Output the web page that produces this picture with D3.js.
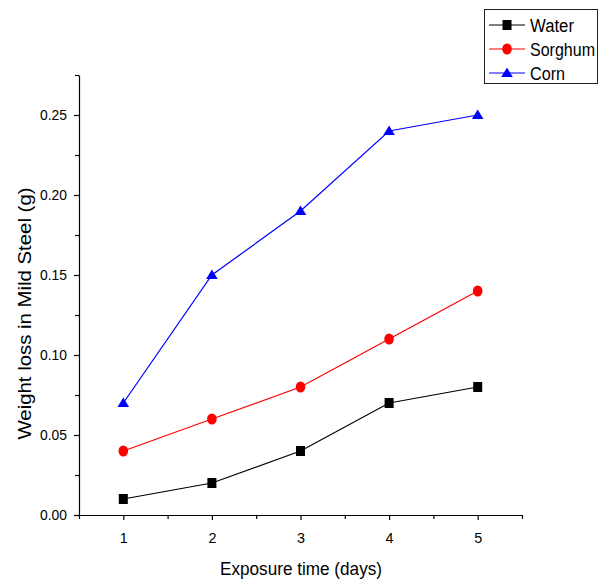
<!DOCTYPE html>
<html><head><meta charset="utf-8">
<script src="https://cdn.jsdelivr.net/npm/d3@7"></script>
<style>body{margin:0;background:#fff}text{font-family:"Liberation Sans",Arial,sans-serif;fill:#000}</style>
</head><body><svg id="c" width="609" height="581"></svg>
<script>
const days = [1, 2, 3, 4, 5];
const water = [0.01, 0.02, 0.04, 0.07, 0.08];
const sorghum = [0.04, 0.06, 0.08, 0.11, 0.14];
const corn = [0.07, 0.15, 0.19, 0.24, 0.25];
const seriesNames = ["Water", "Sorghum", "Corn"];
const seriesColors = ["#000000", "#ff0000", "#0000ff"];
const seriesShapes = ["square", "circle", "triangle"];
const xTicks = [1, 2, 3, 4, 5];
const yTicks = [0, 0.05, 0.10, 0.15, 0.20, 0.25];

const svg = d3.select("#c");
const x = d3.scaleLinear().domain([0.5, 5.5]).range([79, 522]);
const y = d3.scaleLinear().domain([0, 0.275]).range([515, 75]);

const xMinor = d3.range(0.5, 5.51, 0.5).filter(v => Math.abs(v - Math.round(v)) > 0.01);
const yMinor = d3.range(0.025, 0.276, 0.05);
const FF = '"Liberation Sans",Arial,sans-serif';

const gx = svg.append("g").attr("transform", "translate(0,515)");
gx.call(d3.axisBottom(x).tickValues(xTicks).tickFormat(d3.format("d")).tickSize(5).tickSizeOuter(0).tickPadding(12));
gx.append("g").call(d3.axisBottom(x).tickValues(xMinor).tickFormat("").tickSize(4).tickSizeOuter(0)).select(".domain").remove();
gx.selectAll("text").attr("font-size", 15).style("font-family", FF).attr("textLength", 8).attr("lengthAdjust", "spacingAndGlyphs");

const gy = svg.append("g").attr("transform", "translate(79,0)");
gy.call(d3.axisLeft(y).tickValues(yTicks).tickFormat(d3.format(".2f")).tickSize(5).tickSizeOuter(0).tickPadding(7));
gy.append("g").call(d3.axisLeft(y).tickValues(yMinor).tickFormat("").tickSize(4).tickSizeOuter(0)).select(".domain").remove();
gy.selectAll("text").attr("font-size", 15).style("font-family", FF).attr("textLength", 27).attr("lengthAdjust", "spacingAndGlyphs");
svg.selectAll(".domain, .tick line").attr("stroke", "#000").attr("stroke-width", 1.2);

const data = [water, sorghum, corn];
const line = d3.line().x((d, i) => x(days[i])).y(d => y(d));

function marker(g, shape, color, cx, cy) {
  if (shape === "square") {
    g.append("rect").attr("x", cx - 4.5).attr("y", cy - 5).attr("width", 9).attr("height", 10).attr("fill", color);
  } else if (shape === "circle") {
    g.append("ellipse").attr("cx", cx).attr("cy", cy).attr("rx", 4.8).attr("ry", 5.5).attr("fill", color);
  } else {
    g.append("path").attr("d", `M${cx},${cy - 5.5}L${cx + 5.8},${cy + 4}L${cx - 5.8},${cy + 4}Z`).attr("fill", color);
  }
}

data.forEach((vals, k) => {
  const g = svg.append("g");
  g.append("path").datum(vals).attr("d", line).attr("fill", "none").attr("stroke", seriesColors[k]).attr("stroke-width", 1.2);
  vals.forEach((v, i) => marker(g, seriesShapes[k], seriesColors[k], x(days[i]), y(v)));
});

svg.append("text").attr("x", 301).attr("y", 575).attr("text-anchor", "middle").attr("font-size", 18.5)
  .attr("textLength", 162).attr("lengthAdjust", "spacingAndGlyphs").text("Exposure time (days)");
svg.append("text").attr("transform", "translate(30.5,313.5) rotate(-90)").attr("text-anchor", "middle")
  .attr("font-size", 18.5).attr("textLength", 252).attr("lengthAdjust", "spacingAndGlyphs").text("Weight loss in Mild Steel (g)");

const lg = svg.append("g");
lg.append("rect").attr("x", 484.5).attr("y", 9.5).attr("width", 113).attr("height", 74).attr("fill", "#fff").attr("stroke", "#222").attr("stroke-width", 1);
const legY = [25, 49, 73];
const legW = [44, 65, 35];
seriesNames.forEach((n, k) => {
  lg.append("line").attr("x1", 489).attr("x2", 525).attr("y1", legY[k]).attr("y2", legY[k]).attr("stroke", seriesColors[k]).attr("stroke-width", 1.2);
  marker(lg, seriesShapes[k], seriesColors[k], 507, legY[k]);
  lg.append("text").attr("x", 530).attr("y", legY[k] + 6.5).attr("font-size", 18)
    .attr("textLength", legW[k]).attr("lengthAdjust", "spacingAndGlyphs").text(n);
});
</script></body></html>
